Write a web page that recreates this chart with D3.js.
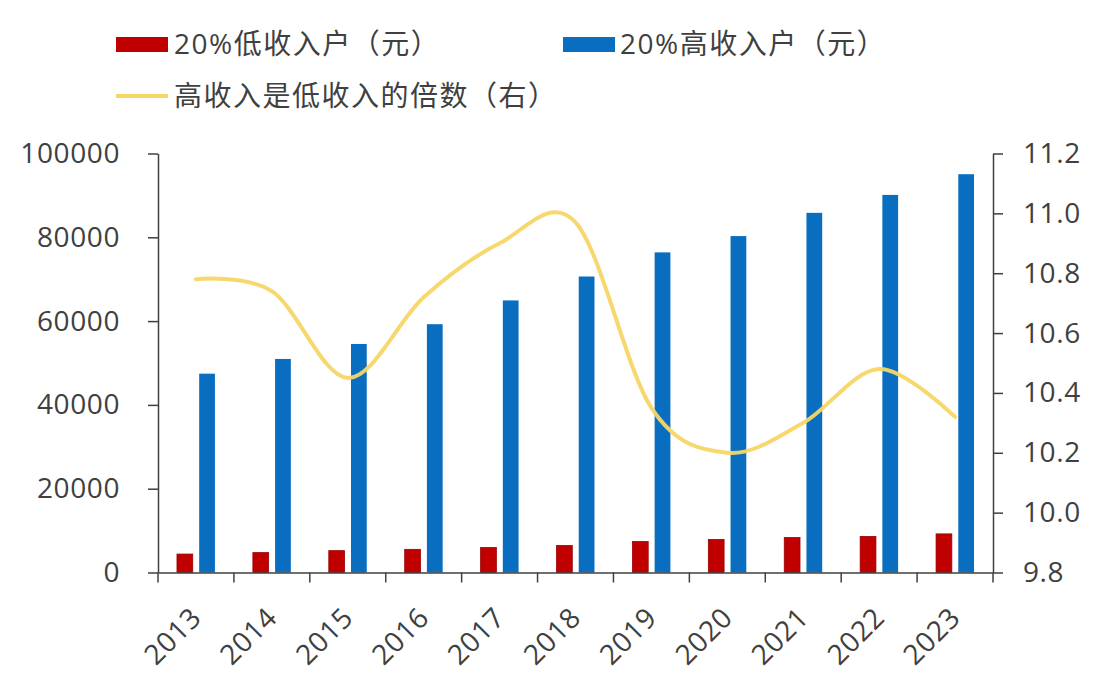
<!DOCTYPE html>
<html>
<head>
<meta charset="utf-8">
<script src="https://cdn.jsdelivr.net/npm/d3@7"></script>
<style>
  html, body { margin: 0; padding: 0; background: #ffffff; }
  svg { display: block; }
  text { font-family: "Open Sans", "Noto Sans CJK SC", sans-serif; fill: #404040; }
</style>
</head>
<body>
<svg id="chart" width="1108" height="686"></svg>
<script>
const years = ["2013","2014","2015","2016","2017","2018","2019","2020","2021","2022","2023"];
const lowIncome = [4402, 4747, 5221, 5528, 5958, 6440, 7380, 7869, 8333, 8601, 9215];
const highIncome = [47457, 50968, 54544, 59259, 64934, 70640, 76401, 80294, 85836, 90116, 95055];
const ratio = [10.78, 10.74, 10.45, 10.72, 10.90, 10.97, 10.35, 10.20, 10.30, 10.48, 10.32];
const leftTicks = [0, 20000, 40000, 60000, 80000, 100000];
const rightTicks = [9.8, 10.0, 10.2, 10.4, 10.6, 10.8, 11.0, 11.2];
const seriesNames = ["20%低收入户（元）", "20%高收入户（元）", "高收入是低收入的倍数（右）"];

(function () {
const svg = d3.select("#chart");
const pl = 158, pr = 993, pt = 153.5, pb = 572.5;
const axisColor = "#404040";
const redColor = "#C00000", blueColor = "#0A6EC0", lineColor = "#F7D667";
const fontSize = 28;

const x = d3.scaleBand().domain(years).range([pl, pr]).paddingInner(0).paddingOuter(0);
const xs = d3.scaleBand().domain(["low", "high"]).range([0, x.bandwidth()]).paddingInner(0.29).paddingOuter(0.855);
const yL = d3.scaleLinear().domain([0, 100000]).range([pb, pt]);
const yR = d3.scaleLinear().domain([9.8, 11.2]).range([pb, pt]);

// bars
const g = svg.append("g");
g.selectAll("rect.low").data(years).enter().append("rect")
  .attr("x", (d) => x(d) + xs("low"))
  .attr("width", xs.bandwidth())
  .attr("y", (d, i) => yL(lowIncome[i]))
  .attr("height", (d, i) => yL(0) - yL(lowIncome[i]))
  .attr("fill", redColor).attr("stroke", "#9a0000").attr("stroke-width", 0.8);
g.selectAll("rect.high").data(years).enter().append("rect")
  .attr("x", (d) => x(d) + xs("high"))
  .attr("width", xs.bandwidth())
  .attr("y", (d, i) => yL(highIncome[i]))
  .attr("height", (d, i) => yL(0) - yL(highIncome[i]))
  .attr("fill", blueColor);

// axes
const axL = svg.append("g").attr("transform", `translate(${pl},0)`)
  .call(d3.axisLeft(yL).tickValues(leftTicks).tickSize(10).tickSizeOuter(0).tickPadding(28).tickFormat(d3.format("d")));
const axR = svg.append("g").attr("transform", `translate(${pr},0)`)
  .call(d3.axisRight(yR).tickValues(rightTicks).tickSize(10).tickSizeOuter(0).tickPadding(20).tickFormat(d3.format(".1f")));
const axB = svg.append("g").attr("transform", `translate(0,${pb})`)
  .call(d3.axisBottom(x).tickSize(0).tickSizeOuter(0).tickFormat(""));
[axL, axR, axB].forEach(a => {
  a.select(".domain").attr("stroke", axisColor).attr("stroke-width", 1.5);
  a.selectAll(".tick line").attr("stroke", axisColor).attr("stroke-width", 1.5);
  a.selectAll("text").attr("font-size", fontSize).attr("fill", "#404040")
    .attr("font-family", '"Open Sans", sans-serif').style("letter-spacing", "0.6px");
});
// category boundary ticks
const bounds = years.map(d => x(d)).concat([pr]);
svg.append("g").selectAll("line").data(bounds).enter().append("line")
  .attr("x1", d => d).attr("x2", d => d)
  .attr("y1", pb).attr("y2", pb + 10)
  .attr("stroke", axisColor).attr("stroke-width", 1.5);
// rotated year labels
svg.append("g").selectAll("text").data(years).enter().append("text")
  .attr("transform", d => `translate(${x(d) + x.bandwidth() / 2 + 7},${pb + 47}) rotate(-45)`)
  .attr("text-anchor", "end")
  .attr("font-size", fontSize)
  .style("letter-spacing", "0.6px")
  .text(d => d);

// line
const line = d3.line()
  .x((d, i) => x(years[i]) + x.bandwidth() / 2)
  .y(d => yR(d))
  .curve(d3.curveCardinal.tension(0));
svg.append("path").datum(ratio)
  .attr("d", line)
  .attr("fill", "none").attr("stroke", lineColor).attr("stroke-width", 4)
  .attr("stroke-linecap", "round").attr("opacity", 0.95);

// legend
const lg = svg.append("g");
lg.append("rect").attr("x", 116).attr("y", 37).attr("width", 52).attr("height", 15).attr("fill", redColor);
lg.append("text").attr("x", 174).attr("y", 44).attr("dy", "0.35em").attr("font-size", fontSize)
  .style("letter-spacing", "1.5px").text(seriesNames[0]);
lg.append("rect").attr("x", 563).attr("y", 37).attr("width", 52).attr("height", 15).attr("fill", blueColor);
lg.append("text").attr("x", 620).attr("y", 44).attr("dy", "0.35em").attr("font-size", fontSize)
  .style("letter-spacing", "1.5px").text(seriesNames[1]);
lg.append("line").attr("x1", 116).attr("x2", 168).attr("y1", 96).attr("y2", 96)
  .attr("stroke", lineColor).attr("stroke-width", 4);
lg.append("text").attr("x", 174).attr("y", 96).attr("dy", "0.35em").attr("font-size", fontSize)
  .style("letter-spacing", "1.5px").text(seriesNames[2]);
})();
</script>
</body>
</html>
